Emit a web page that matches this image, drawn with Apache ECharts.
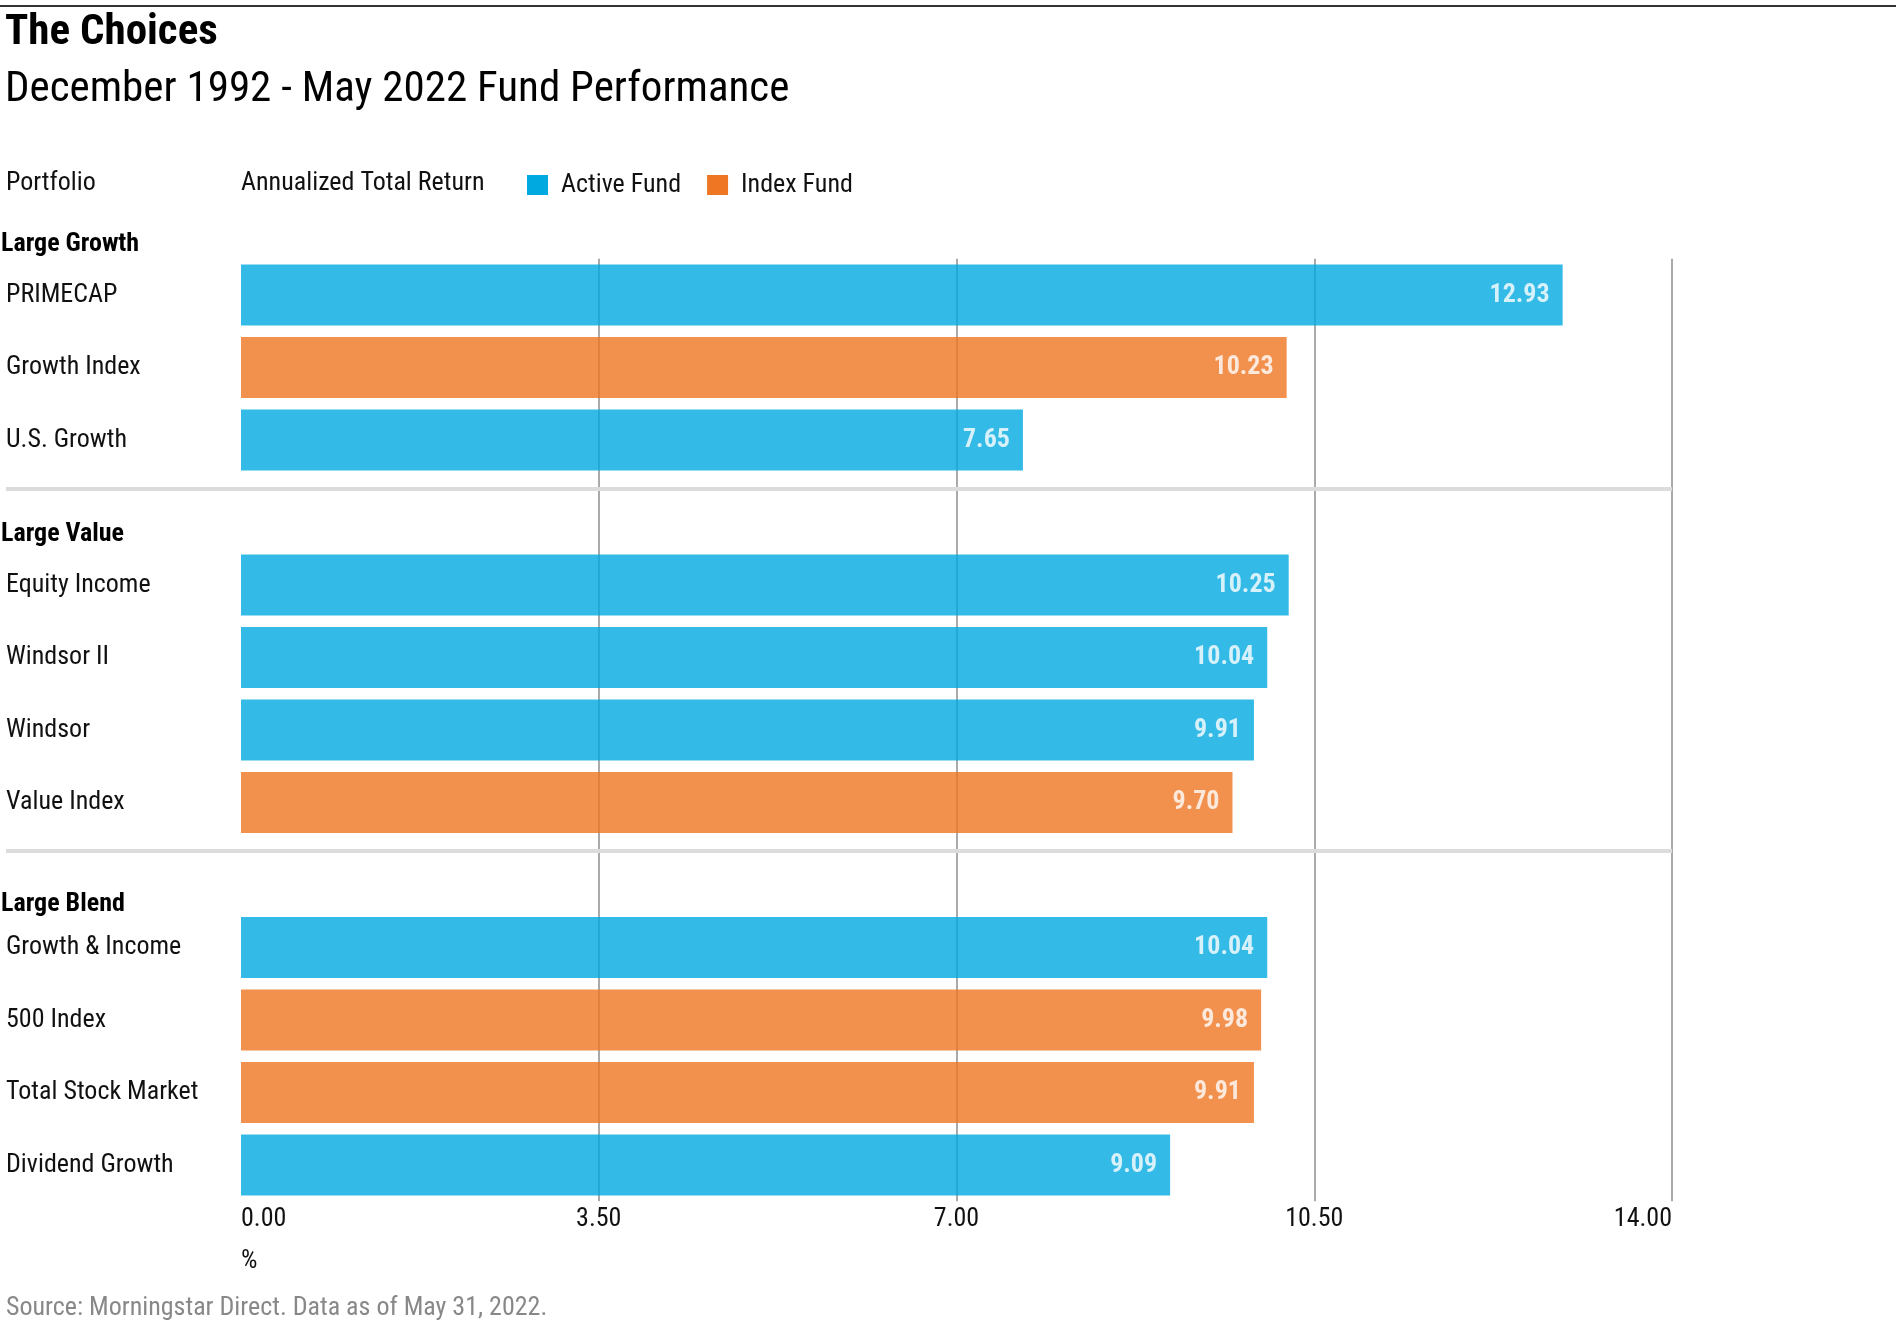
<!DOCTYPE html>
<html>
<head>
<meta charset="utf-8">
<title>The Choices</title>
<script src="https://cdn.jsdelivr.net/npm/echarts@6/dist/echarts.min.js"></script>
<style>
  html, body { margin: 0; padding: 0; background: #fff; }
  #chart { width: 1896px; height: 1325px; }
</style>
</head>
<body>
<div id="chart"></div>
<script>
// rows top to bottom, blank rows are the gaps between the groups
var categories = ['PRIMECAP', 'Growth Index', 'U.S. Growth', ' ',
  'Equity Income', 'Windsor II', 'Windsor', 'Value Index', '  ',
  'Growth & Income', '500 Index', 'Total Stock Market', 'Dividend Growth'];
var activeValues = [12.93, '-', 7.65, '-', 10.25, 10.04, 9.91, '-', '-', 10.04, '-', '-', 9.09];
var indexValues = ['-', 10.23, '-', '-', '-', '-', '-', 9.70, '-', '-', 9.98, 9.91, '-'];
var groupNames = ['Large Growth', 'Large Value', 'Large Blend'];

var FONT = '"Roboto Condensed", Roboto, sans-serif';
var BLUE = '#00a9e0';
var ORANGE = '#ef7622';

var chart = echarts.init(document.getElementById('chart'));

var barLabel = {
  show: true,
  position: 'insideRight',
  distance: 13,
  color: '#fff',
  fontFamily: FONT,
  fontWeight: 'bold',
  fontSize: 26,
  padding: [4, 0, 0, 0],
  formatter: function (p) { return p.value.toFixed(2); }
};

var groupTops = [244, 534, 904];
var sepYs = [489, 851];

var graphics = [
  { type: 'rect', shape: { x: 0, y: 5, width: 1896, height: 2 }, style: { fill: '#333' } },
  { type: 'text', x: 6, y: 183, style: { text: 'Portfolio', font: '26px ' + FONT, fill: '#111', textVerticalAlign: 'middle' } },
  { type: 'text', x: 241, y: 183, style: { text: 'Annualized Total Return', font: '26px ' + FONT, fill: '#111', textVerticalAlign: 'middle' } },
  { type: 'text', x: 241, y: 1261, style: { text: '%', font: '26px ' + FONT, fill: '#111', textVerticalAlign: 'middle' } },
  { type: 'text', x: 6, y: 1308, style: { text: 'Source: Morningstar Direct. Data as of May 31, 2022.', font: '26px ' + FONT, fill: '#888', textVerticalAlign: 'middle' } }
];
groupNames.forEach(function (g, i) {
  graphics.push({ type: 'text', x: 1, y: groupTops[i], style: { text: g, font: 'bold 26px ' + FONT, fill: '#000', textVerticalAlign: 'middle' } });
});
sepYs.forEach(function (y) {
  graphics.push({ type: 'rect', z: 1, shape: { x: 6, y: y - 2, width: 1666, height: 4 }, style: { fill: '#dcdcdc' } });
});

chart.setOption({
  animation: false,
  backgroundColor: '#fff',
  title: {
    left: 5, top: 12,
    text: 'The Choices',
    subtext: 'December 1992 - May 2022 Fund Performance',
    itemGap: 14,
    padding: 0,
    textStyle: { fontFamily: FONT, fontSize: 43, fontWeight: 'bold', color: '#000' },
    subtextStyle: { fontFamily: FONT, fontSize: 43, color: '#000' }
  },
  legend: {
    left: 527, top: 172,
    padding: 0,
    itemWidth: 21, itemHeight: 20,
    itemGap: 26,
    icon: 'rect',
    textStyle: { fontFamily: FONT, fontSize: 26, color: '#111', padding: [0, 0, 0, 8] },
    data: [
      { name: 'Active Fund', itemStyle: { color: BLUE, opacity: 1 } },
      { name: 'Index Fund', itemStyle: { color: ORANGE, opacity: 1 } }
    ]
  },
  grid: { left: 241, right: 224, top: 258.75, height: 942.5, containLabel: false },
  xAxis: {
    type: 'value',
    min: 0, max: 14, interval: 3.5,
    axisLine: { show: false },
    axisTick: { show: false },
    splitLine: { show: true, showMinLine: false, lineStyle: { color: '#aaa', width: 2 } },
    axisLabel: {
      margin: 5,
      fontFamily: FONT, fontSize: 26, color: '#111',
      alignMinLabel: 'left', alignMaxLabel: 'right',
      formatter: function (v) { return v.toFixed(2); }
    }
  },
  yAxis: {
    type: 'category',
    inverse: true,
    data: categories,
    axisLine: { show: false },
    axisTick: { show: false },
    splitLine: { show: false },
    axisLabel: {
      align: 'left', margin: 235,
      padding: [8, 0, 0, 0],
      fontFamily: FONT, fontSize: 26, color: '#111'
    }
  },
  series: [
    {
      name: 'Active Fund', type: 'bar', data: activeValues,
      barWidth: 61, barGap: '-100%',
      itemStyle: { color: BLUE, opacity: 0.8 },
      label: barLabel
    },
    {
      name: 'Index Fund', type: 'bar', data: indexValues,
      barWidth: 61, barGap: '-100%',
      itemStyle: { color: ORANGE, opacity: 0.8 },
      label: barLabel
    }
  ],
  graphic: graphics
});
</script>
</body>
</html>
